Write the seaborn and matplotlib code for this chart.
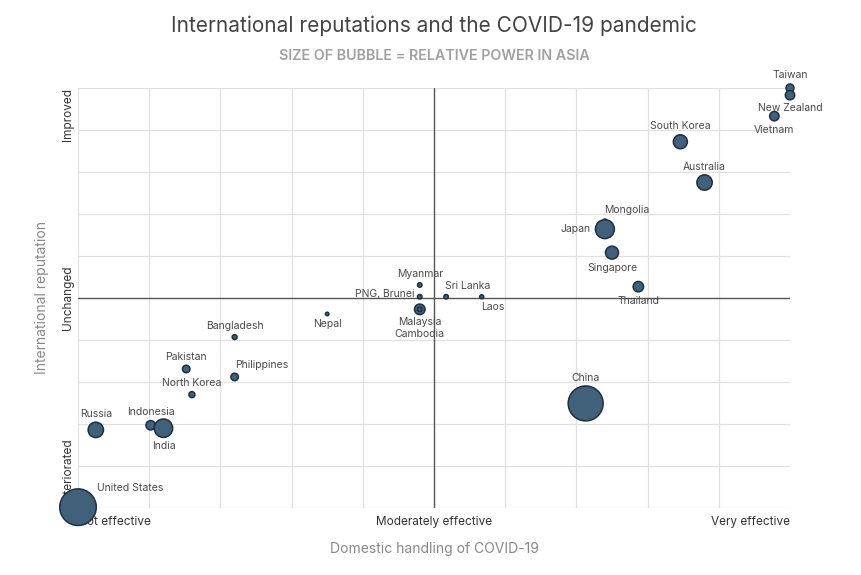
import pandas as pd
import numpy as np
import seaborn as sns
import matplotlib.pyplot as plt

# Values (x: -5 not effective .. 5 very effective,
# y: -5 deteriorated .. 5 improved, power ~ bubble area)
countries = ["Taiwan", "New Zealand", "Vietnam", "South Korea", "Australia",
             "Mongolia", "Japan", "Singapore", "Thailand", "China",
             "Myanmar", "PNG, Brunei", "Sri Lanka", "Laos", "Malaysia",
             "Cambodia", "Nepal", "Bangladesh", "Pakistan", "Philippines",
             "North Korea", "Indonesia", "India", "Russia", "United States"]
handling = [5.0, 5.0, 4.78, 3.46, 3.80,
            2.40, 2.40, 2.50, 2.87, 2.13,
            -0.20, -0.20, 0.17, 0.67, -0.20,
            -0.20, -1.50, -2.80, -3.48, -2.80,
            -3.40, -3.98, -3.80, -4.75, -5.0]
reputation = [5.0, 4.83, 4.33, 3.72, 2.75,
              1.84, 1.64, 1.08, 0.27, -2.51,
              0.31, 0.03, 0.03, 0.03, -0.27,
              -0.27, -0.38, -0.93, -1.69, -1.88,
              -2.30, -3.03, -3.10, -3.14, -4.98]
power = [16, 22, 22, 49, 59,
         3, 90, 42, 27, 306,
         5, 5, 5, 4, 28,
         5, 3, 6, 14, 14,
         9, 22, 85, 59, 335]

x_ticks = [-5, 0, 5]
x_labels = ["Not effective", "Moderately effective", "Very effective"]
y_ticks = [-5, 0, 5]
y_labels = ["Deteriorated", "Unchanged", "Improved"]

# label offsets in pixels (dx, dy, ha)
label_pos = {
    "Taiwan": (0, 13, "center"), "New Zealand": (0, -13, "center"),
    "Vietnam": (0, -14, "center"), "South Korea": (0, 16, "center"),
    "Australia": (0, 16, "center"), "Mongolia": (22, 11, "center"),
    "Japan": (-14, 0, "right"), "Singapore": (0, -15, "center"),
    "Thailand": (0, -14, "center"), "China": (0, 25, "center"),
    "Myanmar": (0, 11, "center"), "PNG, Brunei": (-5, 3, "right"),
    "Sri Lanka": (22, 11, "center"), "Laos": (11, -10, "center"),
    "Malaysia": (0, -13, "center"), "Cambodia": (0, -25, "center"),
    "Nepal": (0, -10, "center"), "Bangladesh": (0, 11, "center"),
    "Pakistan": (0, 12, "center"), "Philippines": (0, 12, "left"),
    "North Korea": (0, 12, "center"), "Indonesia": (0, 13, "center"),
    "India": (0, -18, "center"), "Russia": (0, 16, "center"),
    "United States": (19, 19, "left"),
}

df = pd.DataFrame({"country": countries, "handling": handling,
                   "reputation": reputation, "power": power})

sns.set_style("white")
plt.rcParams['font.family'] = ['Inter', 'DejaVu Sans']

fig = plt.figure(figsize=(8.62, 5.75), dpi=100)
ax = fig.add_axes([78 / 862, 1 - 508 / 575, 712 / 862, 420 / 575])

max_p = max(power)
sns.scatterplot(data=df, x="handling", y="reputation", size="power",
                sizes=(0, 2.07 * max_p), size_norm=(0, max_p),
                color="#41607a", edgecolor="#1d3042", linewidth=1.1,
                alpha=1, legend=False, clip_on=False, zorder=3, ax=ax)

ax.set_xlim(-5, 5)
ax.set_ylim(-5, 5)

# grid
for v in range(-5, 5):
    if v != 0:
        ax.axvline(v, color="#e0e0e0", lw=0.9, zorder=0)
for v in range(-5, 6):
    if v != 0:
        ax.axhline(v, color="#e0e0e0", lw=0.9, zorder=0)
ax.axvline(0, color="#555555", lw=1.0, zorder=1)
ax.axhline(0, color="#555555", lw=1.0, zorder=1)
for s in ax.spines.values():
    s.set_visible(False)

ax.set_xticks(x_ticks)
ax.set_xticklabels(x_labels, fontsize=8.5, color="#333333")
ax.set_yticks(y_ticks)
ax.set_yticklabels(y_labels, fontsize=8.5, color="#333333", rotation=90)
ax.tick_params(length=0, pad=6)
xl = ax.get_xticklabels()
xl[0].set_ha("left")
xl[2].set_ha("right")
yl = ax.get_yticklabels()
yl[0].set_va("bottom")
yl[1].set_va("center")
yl[2].set_va("top")
ax.tick_params(axis="y", pad=3)

ax.set_xlabel("Domestic handling of COVID-19", fontsize=10, color="#888888", labelpad=10)
ax.set_ylabel("International reputation", fontsize=10, color="#888888", labelpad=9)

for _, r in df.iterrows():
    dx, dy, ha = label_pos[r["country"]]
    ax.annotate(r["country"], (r["handling"], r["reputation"]),
                xytext=(dx * 0.72, dy * 0.72), textcoords="offset points",
                ha=ha, va="center", fontsize=7.5, color="#4a4a4a",
                zorder=4, annotation_clip=False)

fig.text(434 / 862, 1 - 26 / 575, "International reputations and the COVID-19 pandemic",
         ha="center", va="center", fontsize=15, color="#444444")
fig.text(434 / 862, 1 - 56 / 575, "SIZE OF BUBBLE = RELATIVE POWER IN ASIA",
         ha="center", va="center", fontsize=10.3, color="#a0a0a0", fontweight="semibold")

plt.savefig("out.png", dpi=100)
plt.close()
